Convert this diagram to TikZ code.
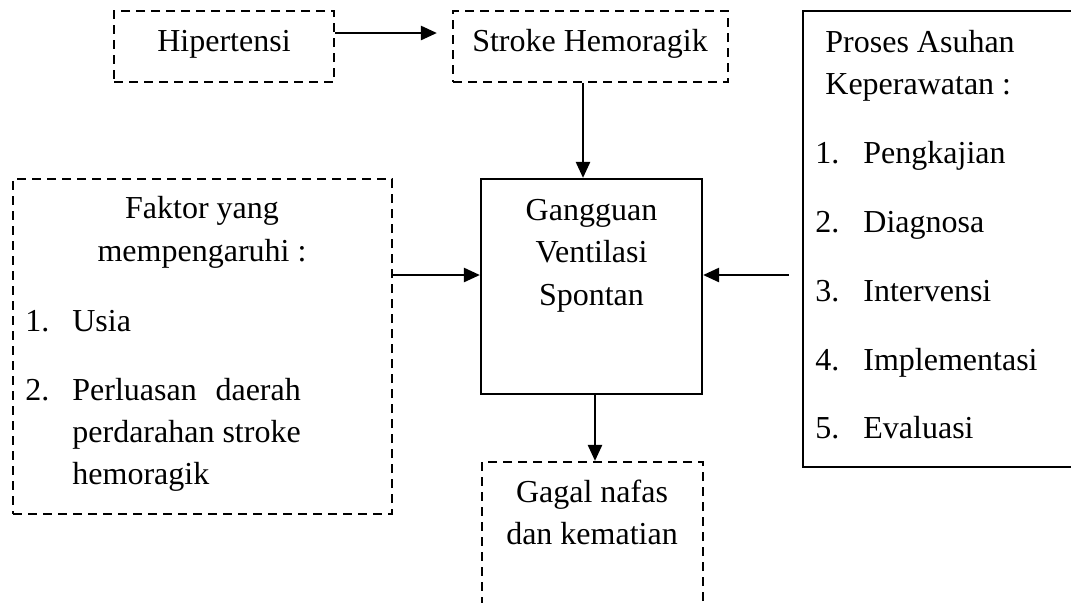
\documentclass[tikz,border=0pt]{standalone}
\usepackage{fontspec}
\setmainfont{Liberation Serif}
\usetikzlibrary{arrows.meta,fit}
\begin{document}
\begin{tikzpicture}[x=0.5pt,y=-0.5pt,
  box/.style={draw, line width=1.1pt, inner sep=0pt},
  dbox/.style={box, dash pattern=on 4.5pt off 3pt},
  arr/.style={line width=1.25pt, -{Triangle[length=8pt,width=7pt]}},
  txt/.style={inner sep=0pt, font=\fontsize{16}{21}\selectfont},
]
\clip (0,0) rectangle (1071,602);
% boxes
\node[dbox, fit={(114,11)(334,82)}] (hip) {};
\node[dbox, fit={(453,11)(728,82)}] (stroke) {};
\node[box, fit={(481,179)(702,394)}] (gang) {};
\node[dbox, fit={(13,179)(392,514)}] (faktor) {};
\node[box, line width=1.4pt, fit={(803,11)(1085,467)}] (proses) {};
\node[dbox, fit={(482,462)(703,650)}] (gagal) {};
% texts
\node[txt, anchor=base] (thip) at (224,51) {Hipertensi};
\node[txt, anchor=base] (tstroke) at (590,51) {Stroke Hemoragik};
\node[txt, anchor=base] (tgang) at (591.5,220)
  {\parbox[t]{100pt}{\centering\baselineskip=21.25pt Gangguan\\Ventilasi\\Spontan}};
\node[txt, anchor=base] (tfak) at (202,218)
  {\parbox[t]{150pt}{\centering\baselineskip=21.5pt Faktor yang\\mempengaruhi :}};
\node[txt, anchor=base west] (f1) at (25,331) {\makebox[23.5pt][l]{1.}Usia};
\node[txt, anchor=base west] (f2) at (25,400)
  {\makebox[23.5pt][l]{2.}\parbox[t]{114.2pt}{\baselineskip=21pt\makebox[\linewidth][s]{Perluasan daerah}\\perdarahan stroke\\hemoragik}};
\node[txt, anchor=base west] (tpro) at (825,52)
  {\parbox[t]{120pt}{\baselineskip=21pt Proses Asuhan\\Keperawatan :}};
\node[txt, anchor=base west] (p1) at (815,163) {\makebox[24pt][l]{1.}Pengkajian};
\node[txt, anchor=base west] (p2) at (815,232) {\makebox[24pt][l]{2.}Diagnosa};
\node[txt, anchor=base west] (p3) at (815,301) {\makebox[24pt][l]{3.}Intervensi};
\node[txt, anchor=base west] (p4) at (815,370) {\makebox[24pt][l]{4.}Implementasi};
\node[txt, anchor=base west] (p5) at (815,438) {\makebox[24pt][l]{5.}Evaluasi};
\node[txt, anchor=base] (tgagal) at (592,502)
  {\parbox[t]{120pt}{\centering\baselineskip=21pt Gagal nafas\\dan kematian}};
% connectors
\coordinate (ya) at (0,33);
\coordinate (yb) at (0,275);
\coordinate (xa) at (583,0);
\coordinate (xc) at (595,0);
\draw[arr, shorten >=7.5pt] (hip.east |- ya) -- (stroke.west |- ya);
\draw[arr] (stroke.south -| xa) -- (gang.north -| xa);
\draw[arr] (faktor.east |- yb) -- (gang.west |- yb);
\draw[arr, shorten <=6.5pt] (proses.west |- yb) -- (gang.east |- yb);
\draw[arr] (gang.south -| xc) -- (gagal.north -| xc);
\end{tikzpicture}
\end{document}
